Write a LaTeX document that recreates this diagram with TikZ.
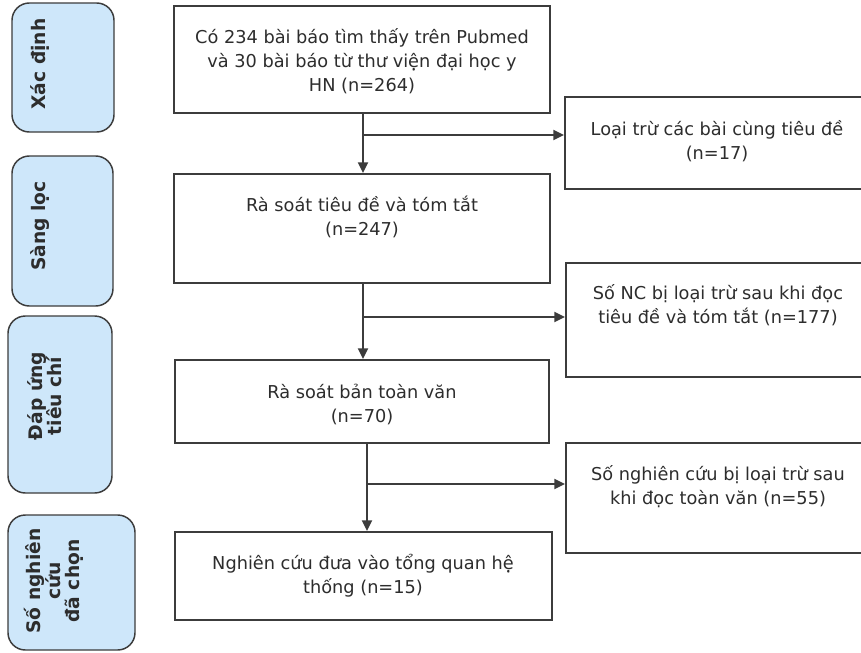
\documentclass[tikz,border=0pt]{standalone}
\usepackage{fontspec}
\setmainfont{DejaVu Sans}
\usetikzlibrary{arrows.meta}
\definecolor{lblue}{RGB}{206,231,250}
\definecolor{edge}{RGB}{60,60,60}
\definecolor{txt}{RGB}{45,45,45}
\begin{document}
\begin{tikzpicture}[x=0.75pt,y=-0.75pt,
  box/.style={draw=edge,line width=1.4pt,fill=white,inner sep=0pt},
  btext/.style={align=center,text=txt,font=\fontsize{13.3}{18}\selectfont,inner sep=0pt},
  lbox/.style={draw=edge,line width=1.1pt,fill=lblue,rounded corners=13pt,inner sep=0pt},
  ltext/.style={rotate=90,align=center,text=txt,font=\bfseries\fontsize{14}{14.5}\selectfont,inner sep=0pt},
  arr/.style={draw=edge,line width=1.4pt,-{Triangle[length=8pt,width=7.5pt]}},
  ln/.style={draw=edge,line width=1.4pt}]
\useasboundingbox (0,0) rectangle (861,653);
\clip (0,0) rectangle (861,653);
% left stage boxes
\node[lbox,minimum width=76.5pt,minimum height=96.75pt] (L1) at (63,67.5) {};
\node[lbox,minimum width=75.75pt,minimum height=112.5pt] (L2) at (62.5,231) {};
\node[lbox,minimum width=78pt,minimum height=132.75pt] (L3) at (60,404.5) {};
\node[lbox,minimum width=95.25pt,minimum height=101.25pt] (L4) at (71.5,582.5) {};
\node[ltext] (l1t) at (40,64) {Xác định};
\node[ltext] (l2t) at (40,226) {Sàng lọc};
\node[ltext] (l3t) at (45,396) {Đáp ứng\\tiêu chí};
\node[ltext] (l4t) at (54,581) {Số nghiên\\cứu\\đã chọn};
% main boxes
\node[box,minimum width=282pt,minimum height=80.25pt] (A) at (362,59.5) {};
\node[box,minimum width=228.75pt,minimum height=69pt] (B) at (717.5,143) {};
\node[box,minimum width=282pt,minimum height=81.75pt] (C) at (362,228.5) {};
\node[box,minimum width=228pt,minimum height=85.5pt] (D) at (718,320) {};
\node[box,minimum width=280.5pt,minimum height=62.25pt] (E) at (362,401.5) {};
\node[box,minimum width=228pt,minimum height=82.5pt] (G) at (718,498) {};
\node[box,minimum width=282.75pt,minimum height=66pt] (F) at (363.5,576) {};
% texts
\node[btext] (tA) at (362,61) {Có 234 bài báo tìm thấy trên Pubmed\\và 30 bài báo từ thư viện đại học y\\HN (n=264)};
\node[btext] (tB) at (717,141) {Loại trừ các bài cùng tiêu đề\\(n=17)};
\node[btext] (tC) at (362,217) {Rà soát tiêu đề và tóm tắt\\(n=247)};
\node[btext] (tD) at (718,305) {Số NC bị loại trừ sau khi đọc\\tiêu đề và tóm tắt (n=177)};
\node[btext] (tE) at (362,404) {Rà soát bản toàn văn\\(n=70)};
\node[btext] (tG) at (718,487) {Số nghiên cứu bị loại trừ sau\\khi đọc toàn văn (n=55)};
\node[btext] (tF) at (363,576) {Nghiên cứu đưa vào tổng quan hệ\\thống (n=15)};
% connectors
\coordinate (j1) at (363,135);
\coordinate (j2) at (363,317);
\coordinate (j3) at (367,484);
\draw[arr] (A.south -| j1) -- (C.north -| j1);
\draw[arr] (j1) -- (j1 -| B.west);
\draw[arr] (C.south -| j2) -- (E.north -| j2);
\draw[arr] (j2) -- (j2 -| D.west);
\draw[arr] (E.south -| j3) -- (F.north -| j3);
\draw[arr] (j3) -- (j3 -| G.west);
\end{tikzpicture}
\end{document}
